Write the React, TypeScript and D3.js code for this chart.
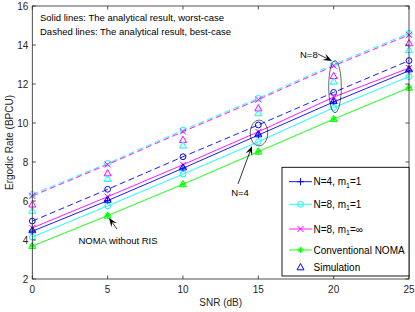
import React from "react";
import * as d3 from "d3";

const snr = [0, 5, 10, 15, 20, 25];
const xTicks = [0, 5, 10, 15, 20, 25];
const yTicks = [2, 4, 6, 8, 10, 12, 14, 16];

// worst-case (solid)
const n4Solid = [4.45, 6.02, 7.68, 9.38, 11.08, 12.68];
const n8m1Solid = [4.15, 5.75, 7.38, 9.04, 10.79, 12.38];
const n8InfSolid = [4.62, 6.22, 7.86, 9.55, 11.33, 12.82];
// best-case (dashed)
const n4Dashed = [4.97, 6.6, 8.27, 9.9, 11.57, 13.2];
const n8m1Dashed = [6.34, 7.93, 9.64, 11.27, 13.01, 14.6];
const n8InfDashed = [6.26, 7.87, 9.56, 11.2, 12.93, 14.52];
const noma = [3.69, 5.25, 6.86, 8.53, 10.2, 11.81];
// simulation
const simN8Inf = [5.82, 7.42, 9.13, 10.75, 12.41, 14.09];
const simN8m1 = [5.5, 7.13, 8.84, 10.5, 12.12, 13.74];
const simN4 = [4.5, 6.06, 7.72, 9.42, 11.12, 12.75];
const simNoma = [3.69, 5.25, 6.86, 8.53, 10.2, 11.81];

const W = 415, H = 312;
const L = 32.3, R = 409, T = 6, B = 279;
const AX = "#262626";
const BLUE = "#0000ff", CYAN = "#00ffff", MAG = "#ff00ff", GRN = "#00ff00";
const FONT = "Liberation Sans, Arial, sans-serif";

const x = d3.scaleLinear().domain([0, 25]).range([L, R]);
const y = d3.scaleLinear().domain([2, 16]).range([B, T]);
const line = d3.line<number>().x((_, i) => x(snr[i])).y((d) => y(d));

type M = "plus" | "circle" | "x" | "star" | "tri";

function Marker({ t, cx, cy, c }: { t: M; cx: number; cy: number; c: string }) {
  const s = 3;
  if (t === "plus")
    return <path d={`M${cx - s - 0.5},${cy}H${cx + s + 0.5}M${cx},${cy - s - 0.5}V${cy + s + 0.5}`} stroke={c} fill="none" strokeWidth={1} />;
  if (t === "circle") return <circle cx={cx} cy={cy} r={2.9} stroke={c} fill="none" strokeWidth={1} />;
  if (t === "x")
    return <path d={`M${cx - s},${cy - s}L${cx + s},${cy + s}M${cx - s},${cy + s}L${cx + s},${cy - s}`} stroke={c} fill="none" strokeWidth={1} />;
  if (t === "star")
    return (
      <path
        d={`M${cx - s},${cy}H${cx + s}M${cx},${cy - s}V${cy + s}M${cx - 2.2},${cy - 2.2}L${cx + 2.2},${cy + 2.2}M${cx - 2.2},${cy + 2.2}L${cx + 2.2},${cy - 2.2}`}
        stroke={c}
        fill="none"
        strokeWidth={1}
      />
    );
  return <path d={`M${cx},${cy - 3.8}L${cx + 3.5},${cy + 2.5}L${cx - 3.5},${cy + 2.5}Z`} stroke={c} fill="none" strokeWidth={1} />;
}

function Series({ data, c, m, dash }: { data: number[]; c: string; m: M | null; dash?: boolean }) {
  return (
    <g>
      <path d={line(data) || ""} stroke={c} fill="none" strokeWidth={0.9} strokeDasharray={dash ? "6,3.5" : undefined} />
      {m && data.map((d, i) => <Marker key={i} t={m} cx={x(snr[i])} cy={y(d)} c={c} />)}
    </g>
  );
}

function Pts({ data, c, m }: { data: number[]; c: string; m: M }) {
  return <g>{data.map((d, i) => <Marker key={i} t={m} cx={x(snr[i])} cy={y(d)} c={c} />)}</g>;
}

function Arrow({ x1, y1, x2, y2 }: { x1: number; y1: number; x2: number; y2: number }) {
  const a = Math.atan2(y2 - y1, x2 - x1);
  const len = 9, wid = 3.5;
  const bx = x2 - len * Math.cos(a), by = y2 - len * Math.sin(a);
  const px = -Math.sin(a) * wid, py = Math.cos(a) * wid;
  const ix = x2 - len * 0.6 * Math.cos(a), iy = y2 - len * 0.6 * Math.sin(a);
  return (
    <g>
      <line x1={x1} y1={y1} x2={ix} y2={iy} stroke="#000" strokeWidth={0.8} />
      <path d={`M${x2},${y2}L${bx + px},${by + py}L${ix},${iy}L${bx - px},${by - py}Z`} fill="#000" />
    </g>
  );
}

const legendItems: { label: React.ReactNode; c: string; m: M; line: boolean }[] = [
  { label: <>N=4, m<tspan fontSize={7} dy={2.5}>1</tspan><tspan dy={-2.5}>=1</tspan></>, c: BLUE, m: "plus", line: true },
  { label: <>N=8, m<tspan fontSize={7} dy={2.5}>1</tspan><tspan dy={-2.5}>=1</tspan></>, c: CYAN, m: "circle", line: true },
  { label: <>N=8, m<tspan fontSize={7} dy={2.5}>1</tspan><tspan dy={-2.5}>=∞</tspan></>, c: MAG, m: "x", line: true },
  { label: <>Conventional NOMA</>, c: GRN, m: "star", line: true },
  { label: <>Simulation</>, c: BLUE, m: "tri", line: false },
];
const legendY = [181.7, 204.3, 229, 250, 267.3];

export default function App() {
  return (
    <div style={{ position: "absolute", left: 0, top: 0 }}>
      <svg width={W} height={H} style={{ display: "block", background: "#fff" }} fontFamily={FONT}>
        <rect x={0} y={0} width={W} height={H} fill="#fff" />
        {/* series */}
        <Series data={n8m1Dashed} c={CYAN} m="circle" dash />
        <Series data={n8InfDashed} c={MAG} m="x" dash />
        <Series data={n4Dashed} c={BLUE} m="circle" dash />
        <Series data={n8InfSolid} c={MAG} m="x" />
        <Series data={n4Solid} c={BLUE} m="plus" />
        <Series data={n8m1Solid} c={CYAN} m="circle" />
        <Series data={noma} c={GRN} m="star" />
        <Pts data={simN8Inf} c={MAG} m="tri" />
        <Pts data={simN8m1} c={CYAN} m="tri" />
        <Pts data={simN4} c={BLUE} m="tri" />
        <Pts data={simNoma} c={GRN} m="tri" />

        {/* axes box */}
        <rect x={L} y={T} width={R - L} height={B - T} fill="none" stroke={AX} strokeWidth={0.8} />
        {xTicks.map((t) => (
          <g key={"x" + t}>
            <line x1={x(t)} x2={x(t)} y1={B} y2={B - 3.5} stroke={AX} strokeWidth={0.8} />
            <line x1={x(t)} x2={x(t)} y1={T} y2={T + 3.5} stroke={AX} strokeWidth={0.8} />
            <text x={x(t)} y={B + 14} textAnchor="middle" fontSize={10} fill={AX}>{t}</text>
          </g>
        ))}
        {yTicks.map((t) => (
          <g key={"y" + t}>
            <line x1={L} x2={L + 3.5} y1={y(t)} y2={y(t)} stroke={AX} strokeWidth={0.8} />
            <line x1={R} x2={R - 3.5} y1={y(t)} y2={y(t)} stroke={AX} strokeWidth={0.8} />
            <text x={L - 4} y={y(t) + 3.5} textAnchor="end" fontSize={10} fill={AX}>{t}</text>
          </g>
        ))}
        <text x={(L + R) / 2} y={306} textAnchor="middle" fontSize={10} fill={AX}>SNR (dB)</text>
        <text transform={`translate(13,${(T + B) / 2}) rotate(-90)`} textAnchor="middle" fontSize={10} fill={AX}>Ergodic Rate (BPCU)</text>

        {/* annotations */}
        <text x={40} y={21} fontSize={9.5} fill="#000">Solid lines: The analytical result, worst-case</text>
        <text x={40} y={35} fontSize={9.5} fill="#000">Dashed lines: The analytical result, best-case</text>
        <ellipse cx={335} cy={86.7} rx={6.3} ry={26} fill="none" stroke="#000" strokeWidth={0.6} />
        <ellipse cx={259} cy={133} rx={8.8} ry={13} fill="none" stroke="#000" strokeWidth={0.6} />
        <text x={300} y={58} fontSize={9.5} fill="#000">N=8</text>
        <Arrow x1={318} y1={54} x2={332} y2={61} />
        <text x={240} y={196} textAnchor="middle" fontSize={9.5} fill="#000">N=4</text>
        <Arrow x1={238} y1={184} x2={252} y2={146} />
        <text x={118} y={244} textAnchor="middle" fontSize={9.5} fill="#000">NOMA without RIS</text>
        <Arrow x1={117} y1={229} x2={109} y2={218} />

        {/* legend */}
        <rect x={282} y={167.3} width={127} height={108.7} fill="#fff" stroke="#000" strokeWidth={0.9} />
        {legendItems.map((it, i) => (
          <g key={i}>
            {it.line && <line x1={289} x2={312} y1={legendY[i]} y2={legendY[i]} stroke={it.c} strokeWidth={0.9} />}
            <Marker t={it.m} cx={300.5} cy={legendY[i]} c={it.c} />
            <text x={313.5} y={legendY[i] + 3.6} fontSize={10} fill="#000">{it.label}</text>
          </g>
        ))}
      </svg>
    </div>
  );
}
